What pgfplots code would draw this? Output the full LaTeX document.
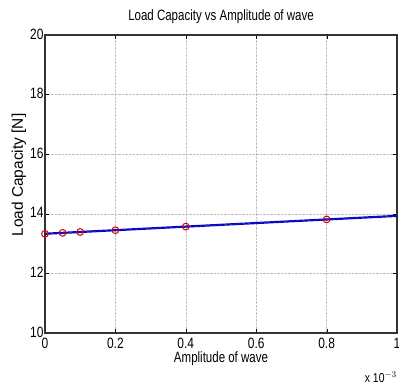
\documentclass[border=0pt]{standalone}
\usepackage{pgfplots}
\pgfplotsset{compat=1.18}
\usepackage{fontspec}
\setmainfont{Liberation Sans}
\begin{document}
\begin{tikzpicture}[x=1bp,y=1bp]
\begin{axis}[
  scale only axis,
  width=352bp, height=298bp,
  xmin=0, xmax=1, ymin=10, ymax=20,
  xtick={0,0.2,0.4,0.6,0.8,1},
  xticklabels={0,0.2,0.4,0.6,0.8,1},
  ytick={10,12,14,16,18,20},
  tick align=inside,
  major tick length=4bp,
  grid=major,
  grid style={densely dotted, gray!50},
  axis line style={black!80, line width=1.3pt},
  tick style={black},
  xticklabel style={font=\fontsize{15}{15}\selectfont\addfontfeatures{FakeStretch=0.8}, yshift=-2bp},
  yticklabel style={font=\fontsize{15}{15}\selectfont\addfontfeatures{FakeStretch=0.8}, xshift=2bp, yshift=1bp},
  /pgf/number format/assume math mode=true,
  title={\addfontfeatures{FakeStretch=0.77}Load Capacity vs Amplitude of wave},
  title style={font=\fontsize{15}{15}\selectfont, at={(axis description cs:0.5,1)}, anchor=center, yshift=12bp},
  xlabel={\addfontfeatures{FakeStretch=0.77}Amplitude of wave},
  xlabel style={font=\fontsize{15}{15}\selectfont, at={(axis description cs:0.5,0)}, anchor=center, yshift=-26bp},
  clip=false,
]
\coordinate (bl) at (rel axis cs:0,0);
\addplot[blue!85!black, line width=2.2pt] coordinates {(0,13.33) (1,13.93)};
\addplot[black!70, dashed, line width=0.5pt] coordinates {(0,13.33) (1,13.93)};
\addplot[only marks, mark=o, red!85!black, mark size=3.4pt, line width=1pt] coordinates {
(0,13.33) (0.05,13.36) (0.1,13.39) (0.2,13.45) (0.4,13.57) (0.8,13.81)};
\node[anchor=north east, inner sep=0pt, font=\fontsize{13}{13}\selectfont\addfontfeatures{FakeStretch=0.8}] at ([yshift=-39bp]rel axis cs:1.0,0) {x 10$^{-3}$};
\node[rotate=90, anchor=center, inner sep=0pt, font=\fontsize{15.5}{15.5}\selectfont] at ([xshift=-26bp, yshift=9bp]rel axis cs:0,0.5) {Load Capacity [N]};
\end{axis}
\pgfresetboundingbox
\path (bl) ++(-45bp,-53bp) rectangle ++(399bp,386bp);
\end{tikzpicture}
\end{document}
